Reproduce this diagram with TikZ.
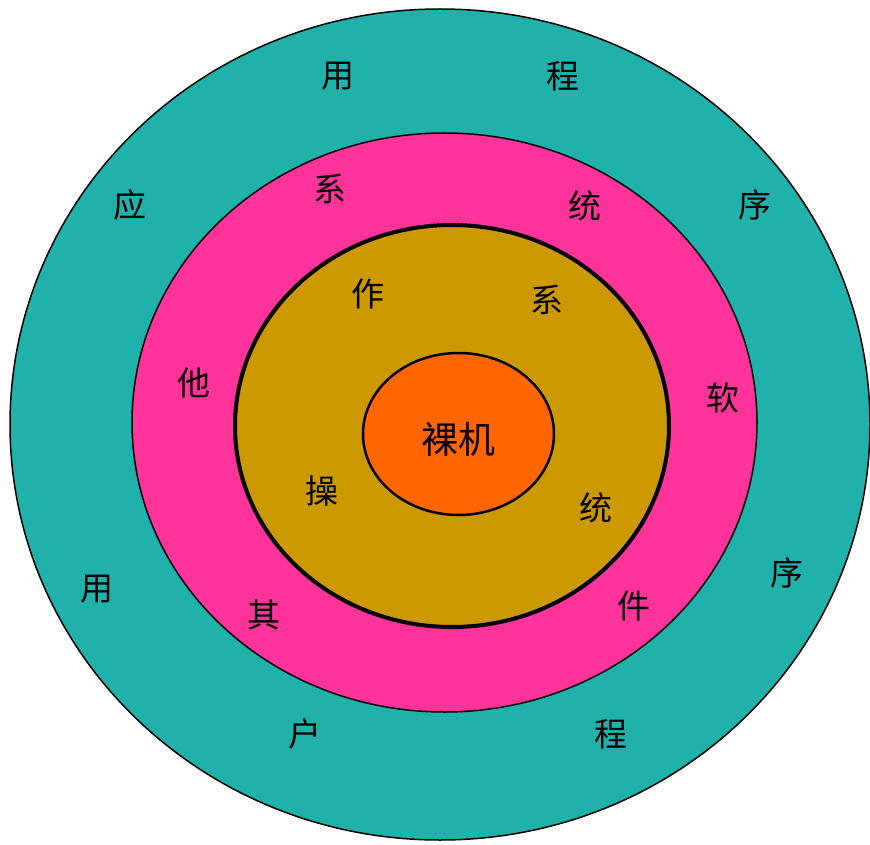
\documentclass[tikz,border=0pt]{standalone}
\usepackage{fontspec}
\newfontfamily\cjk{Noto Sans CJK SC}
\usetikzlibrary{shapes.geometric}
\definecolor{tealring}{HTML}{20B2AA}
\definecolor{pinkring}{HTML}{FF3399}
\definecolor{goldring}{HTML}{CC9900}
\definecolor{corecol}{HTML}{FF6600}
\tikzset{
  ring/.style={ellipse, draw=black, inner sep=0pt, outer sep=0pt},
  ch/.style={font=\cjk\fontsize{33}{33}\selectfont, inner sep=0pt, text=black},
}
\begin{document}
\begin{tikzpicture}[x=1pt,y=-1pt]
\useasboundingbox[fill=white] (0,0) rectangle (870,845);
\node[ring, fill=tealring, line width=1.5pt, minimum width=860pt, minimum height=831pt] (app) at (440,424.5) {};
\node[ring, fill=pinkring, line width=1.5pt, minimum width=625pt, minimum height=579pt] (other) at (444.5,422.5) {};
\node[ring, fill=goldring, line width=4pt, minimum width=434pt, minimum height=402pt] (os) at (452,426) {};
\node[ring, fill=corecol, line width=2.5pt, minimum width=191pt, minimum height=162pt] (bare) at (458.5,434) {};
\node[font=\cjk\fontsize{37}{37}\selectfont, inner sep=0pt] (core) at (458,439) {裸机};
% outer ring
\node[ch] (a1) at (338,76) {用};
\node[ch] (a2) at (563,76) {程};
\node[ch] (a3) at (130,205) {应};
\node[ch] (a4) at (755,205) {序};
\node[ch] (a5) at (97,589) {用};
\node[ch] (a6) at (787,573) {序};
\node[ch] (a7) at (305,734) {户};
\node[ch] (a8) at (611,734) {程};
% pink ring
\node[ch] (b1) at (330,189) {系};
\node[ch] (b2) at (585,206) {统};
\node[ch] (b3) at (194,383) {他};
\node[ch] (b4) at (723,398) {软};
\node[ch] (b5) at (264,615) {其};
\node[ch] (b6) at (634,606) {件};
% gold ring
\node[ch] (c1) at (368,294) {作};
\node[ch] (c2) at (547,300) {系};
\node[ch] (c3) at (322,491) {操};
\node[ch] (c4) at (596,508) {统};
\end{tikzpicture}
\end{document}
